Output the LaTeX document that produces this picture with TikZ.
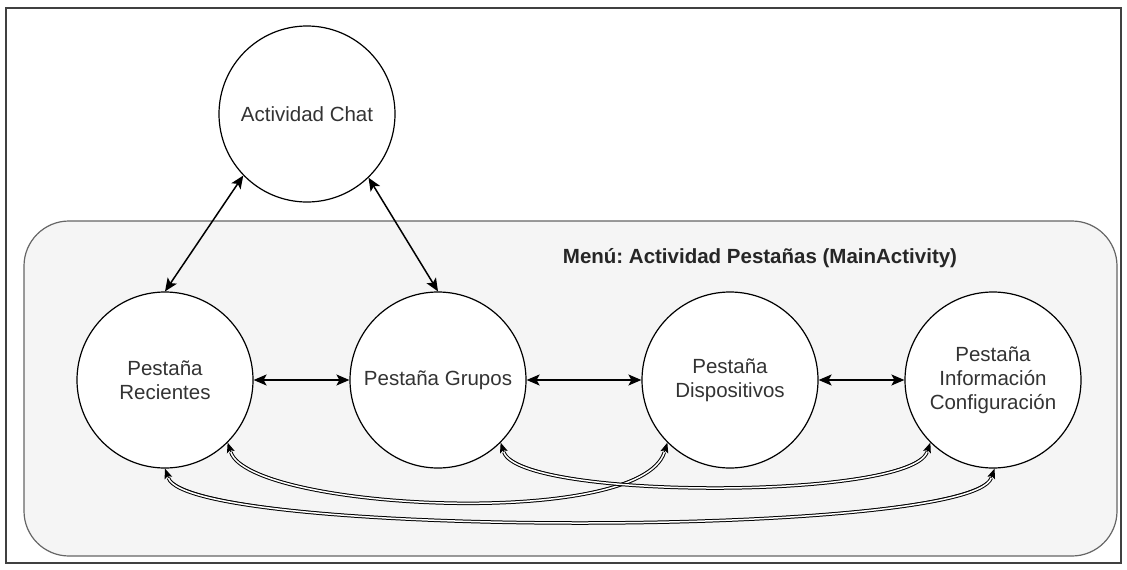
\documentclass[tikz,border=0pt]{standalone}
\usepackage{fontspec}
\setmainfont{Liberation Sans}
\usetikzlibrary{arrows.meta}
\begin{document}
\begin{tikzpicture}[x=1pt,y=-1pt,
  st/.style={circle,draw=black,line width=1.2pt,fill=white,minimum size=176pt,inner sep=0pt,align=center,
    font=\fontsize{20.5}{24}\selectfont,text=black!80},
  arr/.style={line width=1.5pt,{Stealth[length=13pt,width=11pt,inset=3pt]}-{Stealth[length=13pt,width=11pt,inset=3pt]}},
  dblbase/.style={line width=1pt,{Stealth[length=10pt,width=8pt,inset=2pt]}-{Stealth[length=10pt,width=8pt,inset=2pt]}},
  dbl/.style={line width=1pt,double=white,double distance=1.5pt,shorten <=10pt,shorten >=10pt}]
\useasboundingbox (0,0) rectangle (1127,570);
\draw[line width=2pt,draw=black!75] (6,8) rectangle (1121,563);
\draw[fill=black!4,draw=black!60,line width=1.2pt,rounded corners=45pt] (24,221) rectangle (1117,556);
\node[font=\fontsize{20.5}{24}\selectfont\bfseries\frenchspacing,text=black!85] (title) at (760,258) {Menú: Actividad Pestañas (MainActivity)};
\node[st] (chat) at (307,114) {Actividad Chat};
\node[st] (rec) at (165,380) {Pestaña\\Recientes};
\node[st] (gru) at (438,380) {Pestaña Grupos};
\node[st] (dis) at (730,380) {Pestaña\\Dispositivos};
\node[st] (inf) at (993,380) {Pestaña\\Información\\Configuración};
\draw[arr] (chat.-136) -- (rec.north);
\draw[arr] (chat.-46) -- (gru.north);
\draw[arr] (rec.east) -- (gru.west);
\draw[arr] (gru.east) -- (dis.west);
\draw[arr] (dis.east) -- (inf.west);
\draw[dblbase] (rec.-45) .. controls (250,510) and (640,530) .. (dis.-135);
\draw[dbl] (rec.-45) .. controls (250,510) and (640,530) .. (dis.-135);
\draw[dblbase] (gru.-45) .. controls (520,500) and (910,500) .. (inf.-135);
\draw[dbl] (gru.-45) .. controls (520,500) and (910,500) .. (inf.-135);
\draw[dblbase] (rec.south) .. controls (190,538) and (970,538) .. (inf.-89);
\draw[dbl] (rec.south) .. controls (190,538) and (970,538) .. (inf.-89);
\end{tikzpicture}
\end{document}
